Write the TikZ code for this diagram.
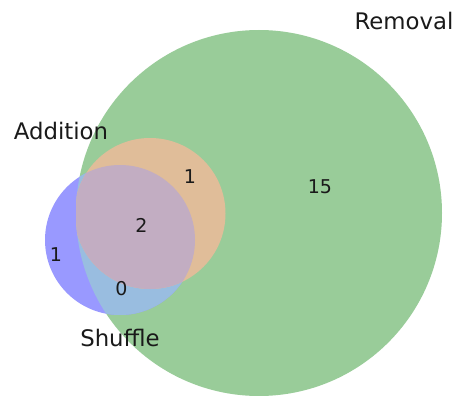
\documentclass[tikz,border=0pt]{standalone}
\usepackage{fontspec}
\setmainfont{DejaVu Sans}
\definecolor{remonly}{HTML}{99CC99}
\definecolor{shufonly}{HTML}{9999FF}
\definecolor{remshuf}{HTML}{99BDE0}
\definecolor{addrem}{HTML}{E0BD99}
\definecolor{triple}{HTML}{C2ADC2}
\definecolor{txt}{HTML}{1A1A1A}
\begin{document}
\begin{tikzpicture}[x=1pt,y=-1pt,
  setlabel/.style={inner sep=0pt,text=txt,font=\fontsize{22.8}{27}\selectfont},
  numlabel/.style={inner sep=0pt,text=txt,font=\fontsize{19}{23}\selectfont}]
\useasboundingbox (0,0) rectangle (455,396);
\def\remcirc{(259,213) circle[radius=183pt]}
\def\addcirc{(150,213.5) circle[radius=75.5pt]}
\def\shufcirc{(120,240) circle[radius=75pt]}
% Removal only
\fill[remonly] \remcirc;
% Shuffle only
\fill[shufonly] \shufcirc;
% Removal & Shuffle
\begin{scope}
  \clip \remcirc;
  \fill[remshuf] \shufcirc;
  % Addition & Removal
  \fill[addrem] \addcirc;
  \clip \shufcirc;
  \fill[triple] \addcirc;
\end{scope}
% set labels
\node[setlabel] (lrem) at (404,21.5) {Removal};
\node[setlabel] (ladd) at (61,131) {Addition};
\node[setlabel] (lshuf) at (120,338) {Shuffle};
% subset labels
\node[numlabel] (n15) at (320,187) {15};
\node[numlabel] (nar) at (190,176.5) {1};
\node[numlabel] (nall) at (141.5,225) {2};
\node[numlabel] (ns) at (56,255) {1};
\node[numlabel] (nrs) at (121.5,289) {0};
\end{tikzpicture}
\end{document}
